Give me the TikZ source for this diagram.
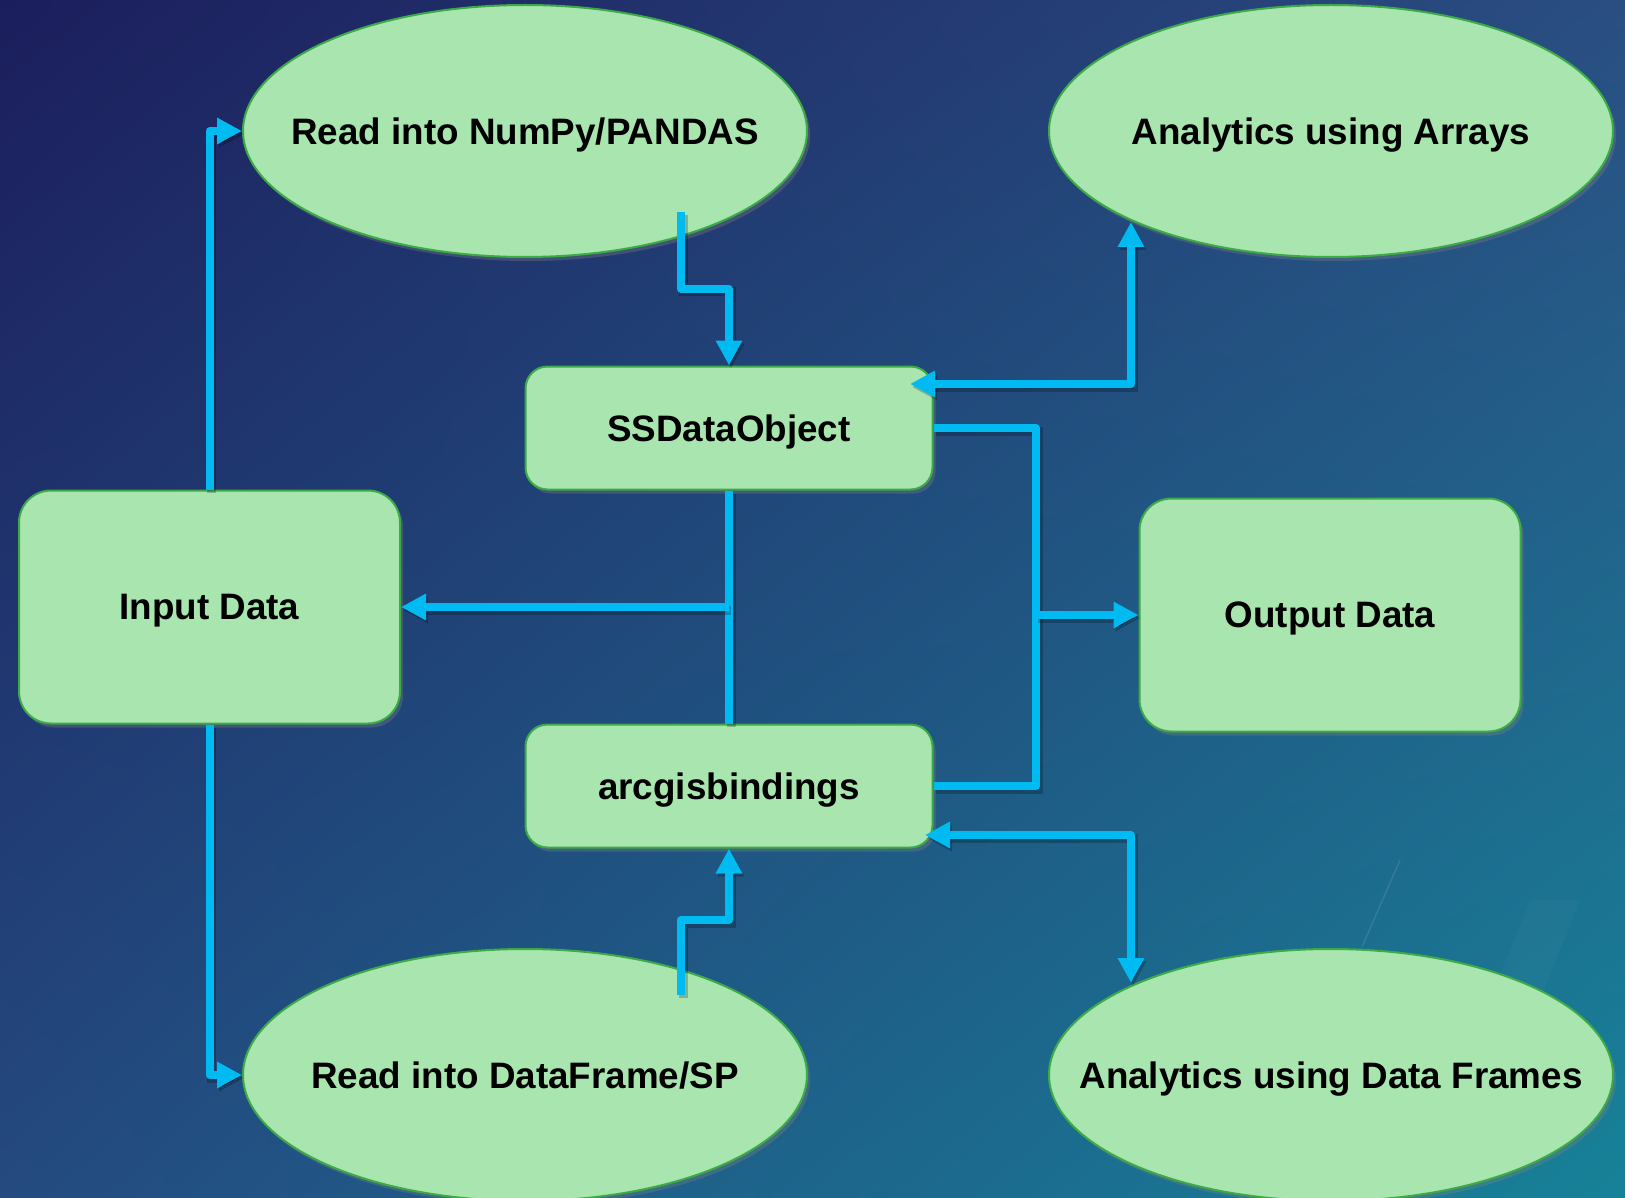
\documentclass[tikz,border=0pt]{standalone}
\usepackage{fontspec}
\setmainfont{Liberation Sans}
\usetikzlibrary{shapes.geometric,arrows.meta,shadows,shadings,calc}
\definecolor{bgTL}{RGB}{27,30,92}
\definecolor{bgTR}{RGB}{42,78,130}
\definecolor{bgBL}{RGB}{36,74,128}
\definecolor{bgBR}{RGB}{22,130,152}
\definecolor{nodefill}{RGB}{169,229,175}
\definecolor{nodeline}{RGB}{60,170,70}
\definecolor{conncol}{RGB}{0,186,242}
\newcommand{\ctext}[1]{\makebox[0pt]{#1}}
\tikzset{
  shapebase/.style={fill=nodefill, draw=nodeline, line width=2pt, inner sep=0pt,
    font=\fontsize{36.8}{44}\selectfont\bfseries, text=black, text depth=0pt,
    drop shadow={opacity=0.35, shadow xshift=3pt, shadow yshift=-4pt}},
  ovalnode/.style={shapebase, ellipse, minimum width=564pt, minimum height=252pt},
  bigbox/.style={shapebase, rectangle, rounded corners=32pt, minimum width=381pt, minimum height=233pt},
  smallbox/.style={shapebase, rectangle, rounded corners=22pt, minimum width=407pt, minimum height=123pt},
  conn/.style={draw=conncol, line width=8pt, line join=round,
    preaction={draw=black, draw opacity=0.22, line width=9pt, transform canvas={xshift=2pt,yshift=-3pt}}},
  arr/.style={conn, -{Triangle[length=25pt,width=25pt]}},
  dblarr/.style={conn, {Triangle[length=25pt,width=25pt]}-{Triangle[length=25pt,width=25pt]}},
}
\begin{document}
\begin{tikzpicture}[x=1pt,y=-1pt]
\useasboundingbox (0,0) rectangle (1625,1198);
\clip (0,0) rectangle (1625,1198);
\shade[upper left=bgTL, upper right=bgTR, lower left=bgBL, lower right=bgBR] (0,0) rectangle (1625,1198);
% faint background streaks
\draw[white, opacity=0.1, line width=1.5pt] (1362,947) -- (1400,860);
\fill[white, opacity=0.025] (1530,900) -- (1580,900) -- (1520,1050) -- (1470,1050) -- cycle;

% nodes
\node[ovalnode] (numpy)  at (525,131)  {\ctext{Read into NumPy/PANDAS}};
\node[ovalnode] (arrays) at (1331,131) {\ctext{Analytics using Arrays}};
\node[ovalnode] (dframe) at (525,1075) {\ctext{Read into DataFrame/SP}};
\node[ovalnode] (dfan)   at (1331,1075) {\ctext{Analytics using Data Frames}};
\node[smallbox] (ssdo)   at (729,428)  {SSDataObject};
\node[smallbox] (arcgis) at (729,786)  {arcgisbindings};
\node[bigbox]   (input)  at (209.5,607) {Input Data};
\node[bigbox]   (output) at (1330,615) {Output Data};

% helper coordinates
\coordinate (npout)  at (681,212);
\coordinate (dfout)  at (681,995);
\coordinate (arrin)  at (1131,222);
\coordinate (ssdoin) at (910,384);
\coordinate (dfin)   at (1131,983);
\coordinate (arcin)  at (925,835);
\coordinate (bus)    at (1036,615);

% connectors
\draw[arr] (input.north) |- (numpy.west);
\draw[arr] (input.south) |- (dframe.west);
\draw[arr] (npout) -- ++(0,77) -| (ssdo.north);
\draw[arr] (dfout) -- ++(0,-75) -| (arcgis.south);
\draw[dblarr] (arrin) |- (ssdoin);
\draw[dblarr] (arcin) -| (dfin);
\draw[conn] (ssdo.east) -| (bus) |- (arcgis.east);
\draw[arr] (bus) -- (output.west);
\draw[conn] (ssdo.south) -- (arcgis.north);
\draw[arr] (ssdo.south |- input.east) -- (input.east);
\end{tikzpicture}
\end{document}
